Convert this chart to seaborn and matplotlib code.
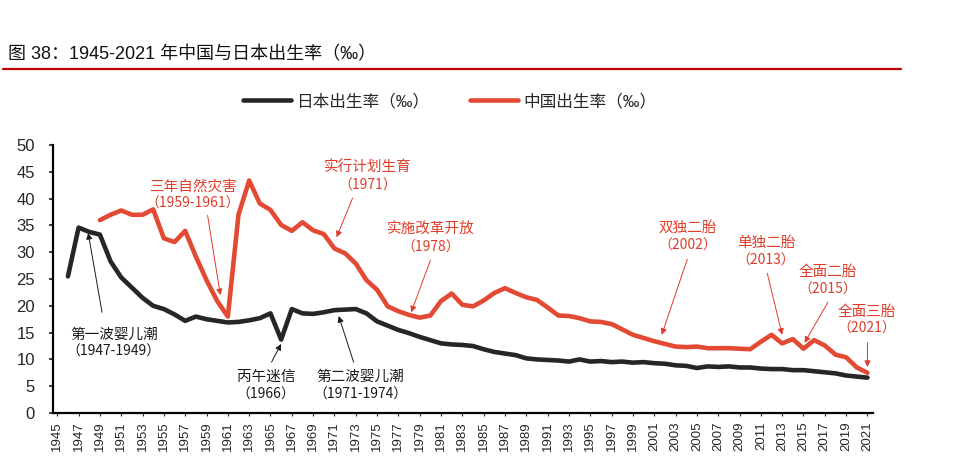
import pandas as pd
import matplotlib
matplotlib.use('Agg')
import matplotlib.pyplot as plt
import seaborn as sns

# Birth rates (per mille)
japan_years = list(range(1946, 2022))
japan_rate = [25.5, 34.6, 33.8, 33.3, 28.3, 25.3, 23.4, 21.5, 20.0, 19.4,
              18.4, 17.2, 18.0, 17.5, 17.2, 16.9, 17.0, 17.3, 17.7, 18.6,
              13.7, 19.4, 18.6, 18.5, 18.8, 19.2, 19.3, 19.4, 18.6, 17.1,
              16.3, 15.5, 14.9, 14.2, 13.6, 13.0, 12.8, 12.7, 12.5, 11.9,
              11.4, 11.1, 10.8, 10.2, 10.0, 9.9, 9.8, 9.6, 10.0, 9.6,
              9.7, 9.5, 9.6, 9.4, 9.5, 9.3, 9.2, 8.9, 8.8, 8.4,
              8.7, 8.6, 8.7, 8.5, 8.5, 8.3, 8.2, 8.2, 8.0, 8.0,
              7.8, 7.6, 7.4, 7.0, 6.8, 6.6]

china_years = list(range(1949, 2022))
china_rate = [36.0, 37.0, 37.8, 37.0, 37.0, 38.0, 32.6, 31.9, 34.0, 29.2,
              24.8, 20.9, 18.0, 37.0, 43.4, 39.1, 37.9, 35.1, 34.0, 35.6,
              34.1, 33.4, 30.7, 29.8, 27.9, 24.8, 23.0, 19.9, 19.0, 18.3,
              17.8, 18.2, 20.9, 22.3, 20.2, 19.9, 21.0, 22.4, 23.3, 22.4,
              21.6, 21.1, 19.7, 18.2, 18.1, 17.7, 17.1, 17.0, 16.6, 15.6,
              14.6, 14.0, 13.4, 12.9, 12.4, 12.3, 12.4, 12.1, 12.1, 12.1,
              12.0, 11.9, 13.3, 14.6, 13.0, 13.8, 12.0, 13.6, 12.6, 10.9,
              10.4, 8.5, 7.5]

tick_years = list(range(1945, 2022, 2))
y_ticks = list(range(0, 51, 5))

# annotations: (title, sub, text x, title y, sub y, arrow start, arrow end, colour)
red = '#E03C2A'
notes = [
    ('三年自然灾害', '（1959-1961）', 1957.7, 42.3, 39.1, (1959.1, 36.9), (1960.3, 22.0), red),
    ('实行计划生育', '（1971）', 1974.1, 45.9, 42.5, (1972.7, 40.1), (1971.2, 32.8), red),
    ('实施改革开放', '（1978）', 1980.0, 34.3, 30.8, (1980.0, 28.5), (1978.2, 18.8), red),
    ('双独二胎', '（2002）', 2004.1, 34.5, 31.2, (2004.1, 28.7), (2001.7, 14.6), red),
    ('单独二胎', '（2013）', 2011.5, 31.7, 28.4, (2011.6, 26.1), (2013.0, 14.6), red),
    ('全面二胎', '（2015）', 2017.3, 26.3, 23.1, (2017.3, 20.7), (2015.1, 13.1), red),
    ('全面三胎', '（2021）', 2020.9, 18.8, 15.7, (2021.0, 13.1), (2021.0, 8.6), red),
    ('第一波婴儿潮', '（1947-1949）', 1950.3, 14.6, 11.4, (1949.2, 18.8), (1947.9, 33.6), '#1a1a1a'),
    ('丙午迷信', '（1966）', 1964.6, 6.7, 3.5, (1965.1, 9.5), (1966.0, 12.9), '#1a1a1a'),
    ('第二波婴儿潮', '（1971-1974）', 1973.4, 6.7, 3.5, (1972.8, 9.5), (1971.4, 18.1), '#1a1a1a'),
]

sns.set_style('white')
plt.rcParams['font.family'] = ['Liberation Sans', 'Noto Sans CJK SC', 'DejaVu Sans']

japan_df = pd.DataFrame({'year': japan_years, 'rate': japan_rate})
china_df = pd.DataFrame({'year': china_years, 'rate': china_rate})

fig = plt.figure(figsize=(9.69, 4.75), dpi=100)
ax = fig.add_axes([0.0547, 0.1305, 0.846, 0.564])

sns.lineplot(data=japan_df, x='year', y='rate', ax=ax, color='#262626', lw=3.3,
             label='日本出生率（‰）')
sns.lineplot(data=china_df, x='year', y='rate', ax=ax, color='#E34A33', lw=3.3,
             label='中国出生率（‰）')

ax.set_xlim(1944.6, 2021.5)
ax.set_ylim(0, 50)
ax.set_xticks(tick_years)
ax.set_xticklabels([str(y) for y in tick_years], rotation=90, fontsize=9.5)
ax.set_yticks(y_ticks)
ax.set_yticklabels([str(v) for v in y_ticks], fontsize=12)
ax.set_xlabel('')
ax.set_ylabel('')
for s in ['top', 'right']:
    ax.spines[s].set_visible(False)
for s in ['left', 'bottom']:
    ax.spines[s].set_color('black')
    ax.spines[s].set_linewidth(1.6)
ax.tick_params(axis='y', direction='out', length=3, width=1.2, pad=10, left=True)
ax.tick_params(axis='x', direction='out', length=2, width=0.8, pad=4, bottom=True)

for title, sub, tx, ty, sy, start, end, col in notes:
    ax.text(tx, ty, title, ha='center', va='center', fontsize=10.5, color=col,
            family=['Noto Sans CJK SC'])
    ax.text(tx, sy, sub, ha='center', va='center', fontsize=10, color=col,
            family=['Noto Sans CJK SC'])
    ax.annotate('', xy=end, xytext=start,
                arrowprops=dict(arrowstyle='-|>', color=col, lw=0.7,
                                mutation_scale=9, shrinkA=0, shrinkB=0))

ax.legend(loc='center', bbox_to_anchor=(0.464, 0.787), bbox_transform=fig.transFigure,
          ncol=2, frameon=False, handlelength=2.9, columnspacing=2.4,
          handletextpad=0.3, prop={'family': ['Liberation Sans', 'Noto Sans CJK SC'], 'size': 12})

fig.text(0.008, 1 - 55 / 475, '图 38：1945-2021 年中国与日本出生率（‰）', fontsize=13,
         va='center', ha='left', color='#111111')
fig.add_artist(plt.Line2D([0.003, 0.93], [1 - 69 / 475, 1 - 69 / 475], color='#C00000',
                          lw=1.6, transform=fig.transFigure))

fig.savefig('out.png', dpi=100)
